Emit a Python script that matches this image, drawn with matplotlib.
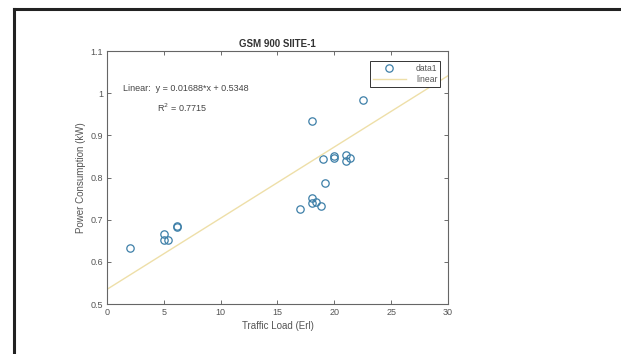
import matplotlib
matplotlib.use("Agg")
import matplotlib.pyplot as plt
import numpy as np
from matplotlib.lines import Line2D

# traffic load (Erl) and power consumption (kW)
traffic = [2.0, 5.0, 5.0, 5.4, 6.2, 6.2, 17.0, 18.0, 18.0, 18.0, 18.4, 18.8,
           19.0, 19.2, 20.0, 20.0, 21.0, 21.0, 21.4, 22.5]
power = [0.632, 0.665, 0.652, 0.652, 0.683, 0.686, 0.725, 0.752, 0.740, 0.935,
         0.743, 0.733, 0.845, 0.788, 0.851, 0.847, 0.853, 0.838, 0.846, 0.985]

slope = 0.01688
intercept = 0.5348
r2 = 0.7715

xticks = [0, 5, 10, 15, 20, 25, 30]
yticks = [0.5, 0.6, 0.7, 0.8, 0.9, 1.0, 1.1]
yticklabels = ['0.5', '0.6', '0.7', '0.8', '0.9', '1', '1.1']

plt.rcParams['font.family'] = ['Liberation Sans', 'DejaVu Sans']

fig = plt.figure(figsize=(6.21, 3.54), dpi=100)
ax = fig.add_axes([0.1723, 0.1412, 0.549, 0.7147])

# frame around the whole picture (top and left only)
fig.add_artist(Line2D([14/621, 1.0], [1 - 9/354, 1 - 9/354], transform=fig.transFigure,
                      color='#222222', lw=2.2))
fig.add_artist(Line2D([14/621, 14/621], [0.0, 1 - 9/354], transform=fig.transFigure,
                      color='#222222', lw=2.2))

ax.plot(traffic, power, 'o', mfc='none', mec='#3d7fa8', ms=5.3, mew=0.9, label='data1')
xfit = np.array([0, 30])
ax.plot(xfit, slope * xfit + intercept, color='#eedfa8', lw=1.0, label='linear')

ax.set_xlim(0, 30)
ax.set_ylim(0.5, 1.1)
ax.set_xticks(xticks)
ax.set_yticks(yticks)
ax.set_yticklabels(yticklabels)
ax.tick_params(direction='in', top=True, right=True, length=3, width=0.6,
               labelsize=6.5, labelcolor='#555555', color='#555555', pad=3)
for s in ax.spines.values():
    s.set_color('#666666')
    s.set_linewidth(0.8)

ax.set_title('GSM 900 SIITE-1', fontsize=7, fontweight='bold', pad=3, color='#333333')
ax.set_xlabel('Traffic Load (Erl)', fontsize=7, color='#555555', labelpad=3)
ax.set_ylabel('Power Consumption (kW)', fontsize=7, color='#555555', labelpad=3)

ax.text(1.4, 1.01, 'Linear:  y = %.5f*x + %.4f' % (slope, intercept), fontsize=6.5,
        color='#444444', va='center')
ax.text(4.4, 0.965, r'R$^2$ = %.4f' % r2, fontsize=6.5, color='#444444', va='center')

leg = ax.legend(loc='upper right', fontsize=6.2, fancybox=False, edgecolor='#333333',
                borderpad=0.35, handlelength=3.8, labelspacing=0.25, handletextpad=1.2,
                bbox_to_anchor=(0.978, 0.962), framealpha=1, borderaxespad=0)
for t in leg.get_texts():
    t.set_color('#555555')
    t.set_ha('right')
leg._legend_box.align = 'right'
leg.get_frame().set_linewidth(0.7)

fig.savefig('out.png', dpi=100)
